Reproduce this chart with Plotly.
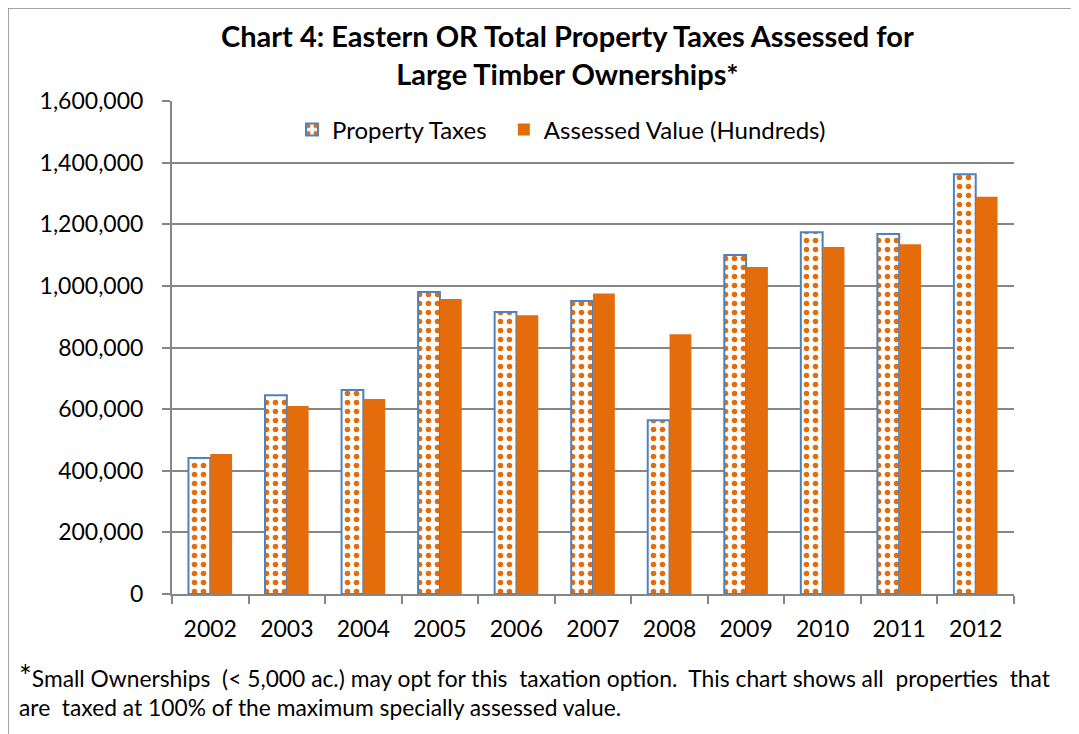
import plotly.graph_objects as go

years = ["2002", "2003", "2004", "2005", "2006", "2007", "2008", "2009", "2010", "2011", "2012"]
property_taxes = [441000, 645000, 662000, 980000, 915000, 951000, 564000, 1100000, 1174000, 1168000, 1362000]
assessed_value = [454000, 610000, 633000, 957000, 905000, 975000, 843000, 1061000, 1126000, 1135000, 1289000]

orange = "#E46C0A"
blue = "#4F81BD"
grey = "#868686"
font = "Lato"

fig = go.Figure()
fig.add_trace(go.Bar(
    x=years, y=property_taxes, name="Property Taxes\u00a0\u00a0",
    marker=dict(color="white", line=dict(color=blue, width=2),
                pattern=dict(shape=".", fgcolor=orange, bgcolor="white", size=9, solidity=0.3, fillmode="replace")),
))
fig.add_trace(go.Bar(
    x=years, y=assessed_value, name="Assessed Value (Hundreds)",
    marker=dict(color=orange, line=dict(width=0)),
))

# the page puts the figure 8px in from the top-left corner
off = 8
W, H = 1071, 726
ml, mt = 172 - off, 101 - off
mr, mb = W + off - 1014, H + off - 594
pw, ph = W - ml - mr, H - mt - mb

def px_x(x):
    return (x - off - ml) / pw

def px_y(y):
    return (H - mb - (y - off)) / ph

fig.update_layout(
    width=W, height=H,
    margin=dict(l=ml, r=mr, t=mt, b=mb),
    paper_bgcolor="white", plot_bgcolor="white",
    font=dict(family=font, color="black", size=21),
    barmode="group", bargap=0.43, bargroupgap=0,
    legend=dict(orientation="h", x=px_x(292), xanchor="left", y=px_y(130), yanchor="middle",
                bgcolor="rgba(0,0,0,0)", font=dict(size=24), itemwidth=30),
    showlegend=True,
)
fig.update_xaxes(type="category", showline=True, linecolor=grey, linewidth=2,
                 ticks="outside", tickson="boundaries", ticklen=8, tickcolor=grey, tickwidth=2,
                 tickfont=dict(size=23), ticklabelstandoff=13)
fig.update_yaxes(range=[0, 1600000], dtick=200000, tickformat=",", showgrid=True, gridcolor=grey, gridwidth=2,
                 showline=True, linecolor=grey, linewidth=2, ticks="outside", ticklen=8, tickcolor=grey,
                 tickwidth=2, zeroline=False, tickfont=dict(size=23), ticklabelstandoff=14)

fig.add_annotation(xref="paper", yref="paper", x=px_x(567), y=px_y(55), xanchor="center", yanchor="middle",
                   showarrow=False, align="center", font=dict(size=29),
                   text="<b>Chart 4: Eastern OR Total Property Taxes Assessed for<br>Large Timber Ownerships*</b>")

fig.add_annotation(xref="paper", yref="paper", x=px_x(17), y=px_y(675), xanchor="left", yanchor="middle",
                   showarrow=False, align="left", font=dict(size=22.8),
                   text="<span style='font-size:30px'>*</span>Small Ownerships\u00a0 (< 5,000 ac.) may opt for this\u00a0 taxation option.\u00a0 This chart shows all\u00a0 properties\u00a0 that")
fig.add_annotation(xref="paper", yref="paper", x=px_x(17), y=px_y(707), xanchor="left", yanchor="middle",
                   showarrow=False, align="left", font=dict(size=22.8),
                   text="are\u00a0 taxed at 100% of the maximum specially assessed value.")

fig.add_shape(type="rect", xref="paper", yref="paper", layer="below",
              x0=px_x(8), x1=px_x(W + off + 10), y0=px_y(H + off + 10), y1=px_y(8),
              line=dict(color=grey, width=1.5), fillcolor="rgba(0,0,0,0)")

fig.write_html("out.html")
